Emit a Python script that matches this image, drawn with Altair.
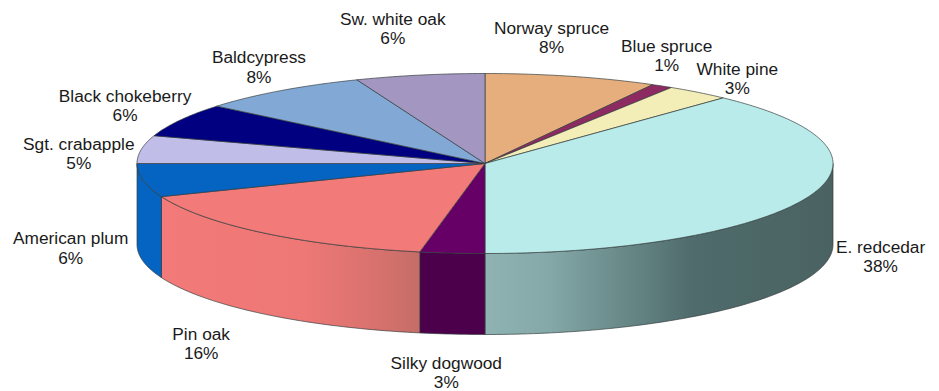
import math
import altair as alt
import pandas as pd

# Nursery stock composition, clockwise from twelve o'clock
species = ["Norway spruce", "Blue spruce", "White pine", "E. redcedar", "Silky dogwood",
           "Pin oak", "American plum", "Sgt. crabapple", "Black chokeberry", "Baldcypress",
           "Sw. white oak"]
percent = [8, 1, 3, 38, 3, 16, 6, 5, 6, 8, 6]
top_colors = ["#E6AE7C", "#8E2A62", "#F3EDB8", "#B9EBEB", "#660066", "#F27A78",
              "#0563C1", "#C0BDE9", "#000080", "#82A9D6", "#A397C2"]

# Side wall shading for the slices facing the viewer, stops run left to right
wall_stops = {
    "E. redcedar": [(0, "#8FB3B3"), (0.18, "#84A9A8"), (0.6, "#4F6B6B"), (1, "#4A6262")],
    "Silky dogwood": [(0, "#4C004C"), (1, "#4C004C")],
    "Pin oak": [(0, "#F27A78"), (0.55, "#EE7876"), (0.85, "#D6716D"), (1, "#C56D68")],
    "American plum": [(0, "#0563C1"), (1, "#0563C1")],
}

# Offset of each label from the rim point at its slice's mid angle
label_nudge = {
    "Norway spruce": (-20, -47.5), "Blue spruce": (4.5, -39.5), "White pine": (39, -22.5),
    "E. redcedar": (72, 51), "Silky dogwood": (-6, 110.5), "Pin oak": (-62, 102),
    "American plum": (-72.5, 59), "Sgt. crabapple": (-62.5, -4.5),
    "Black chokeberry": (-55, -23.5), "Baldcypress": (-21.5, -32.5), "Sw. white oak": (-27, -55.5),
}

WIDTH, HEIGHT = 939, 391
CX, CY, RX, RY, DEPTH = 485, 163.5, 348, 90, 81


def rim(turn, drop=0.0):
    """Ellipse point at a fraction of a turn, in pie-radius units."""
    angle = turn * 2 * math.pi
    return math.sin(angle), math.cos(angle) - drop


def arc(start, end, drop=0.0):
    steps = max(2, int(abs(end - start) * 360))
    return [rim(start + (end - start) * i / steps, drop) for i in range(steps + 1)]


x_scale = alt.Scale(domain=[-CX / RX, (WIDTH - CX) / RX], range=[0, WIDTH], nice=False, zero=False)
y_scale = alt.Scale(domain=[(CY - HEIGHT) / RY, CY / RY], range=[HEIGHT, 0], nice=False, zero=False)


def outline(points, fill, width=0.8):
    frame = pd.DataFrame(
        [{"x": px, "y": py, "i": i} for i, (px, py) in enumerate(points + points[:1])]
    )
    return (
        alt.Chart(frame)
        .mark_line(fill=fill, stroke="#333C3C", strokeWidth=width, strokeOpacity=0.85, strokeJoin="round")
        .encode(
            x=alt.X("x:Q", scale=x_scale, axis=None),
            y=alt.Y("y:Q", scale=y_scale, axis=None),
            order="i:Q",
        )
    )


layers = []
edges = []
running = 0.0
for name, share in zip(species, percent):
    edges.append((name, running / 100, (running + share) / 100))
    running += share

# Walls go down first so the top face overlaps their upper edge
drop = DEPTH / RY
for name, start, end in edges:
    low, high = max(start, 0.25), min(end, 0.75)
    if high <= low or name not in wall_stops:
        continue
    points = arc(low, high) + arc(high, low, drop)
    gradient = alt.LinearGradient(
        gradient="linear", x1=0, x2=1, y1=0, y2=0,
        stops=[alt.GradientStop(offset=o, color=c) for o, c in wall_stops[name]],
    )
    layers.append(outline(points, gradient))

for (name, start, end), color in zip(edges, top_colors):
    layers.append(outline([(0.0, 0.0)] + arc(start, end), color))

rows = []
for name, share, (_, start, end) in zip(species, percent, edges):
    px, py = rim((start + end) / 2)
    rows.append({"label": f"{name}\n{share}%", "x": px, "y": py, "name": name})

for row in rows:
    dx, dy = label_nudge[row["name"]]
    layers.append(
        alt.Chart(pd.DataFrame([row]))
        .mark_text(font="Liberation Sans", fontSize=17.3, color="#1A1A1A", lineBreak="\n",
                   lineHeight=19.5, align="center", baseline="middle", dx=dx, dy=dy)
        .encode(
            x=alt.X("x:Q", scale=x_scale, axis=None),
            y=alt.Y("y:Q", scale=y_scale, axis=None),
            text="label:N",
        )
    )

chart = (
    alt.layer(*layers)
    .properties(width=WIDTH, height=HEIGHT, background="white", padding=0,
                autosize=alt.AutoSizeParams(type="none"))
    .configure_view(stroke=None)
)
chart.save("out.html", embed_options={"renderer": "svg", "actions": False})
